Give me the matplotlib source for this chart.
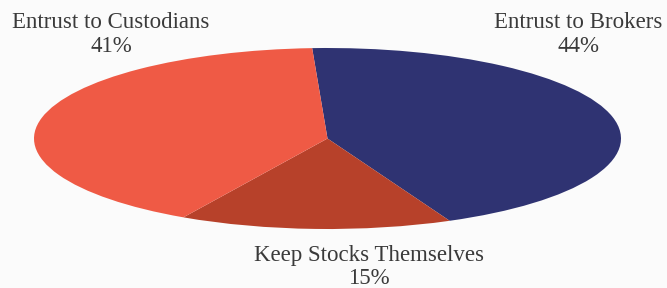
import matplotlib
matplotlib.use("Agg")
import matplotlib.pyplot as plt

labels = ["Entrust to Brokers", "Keep Stocks Themselves", "Entrust to Custodians"]
values = [44, 15, 41]
colors = ["#2f3372", "#b7412a", "#ef5a45"]

W, H = 667, 288
fig = plt.figure(figsize=(W / 100, H / 100), dpi=100)
fig.patch.set_facecolor("#fbfbfb")
ax = fig.add_axes([0, 0, 1, 1])
ax.set_facecolor("#fbfbfb")

cx, cy, rx, ry = 327.5, 138.5, 293.5, 90.5
ax.pie(values, colors=colors, startangle=93, counterclock=False,
       wedgeprops=dict(linewidth=0))
ax.set_aspect("auto")
ax.set_xlim((0 - cx) / rx, (W - cx) / rx)
ax.set_ylim((cy - H) / ry, cy / ry)
ax.axis("off")

font = dict(family="Liberation Serif", color="#3a3a3a", size=16.5)
# label positions in pixels (center x, line1 y, line2 y)
pos = {
    "Entrust to Custodians": (111, 23, 46),
    "Entrust to Brokers": (578, 23, 46),
    "Keep Stocks Themselves": (369, 256, 279),
}
for lab, v in zip(labels, values):
    x, y1, y2 = pos[lab]
    fig.text(x / W, 1 - y1 / H, lab, ha="center", va="center", **font)
    fig.text(x / W, 1 - y2 / H, f"{v}%", ha="center", va="center", **font)

fig.savefig("out.png", dpi=100, facecolor=fig.get_facecolor())
